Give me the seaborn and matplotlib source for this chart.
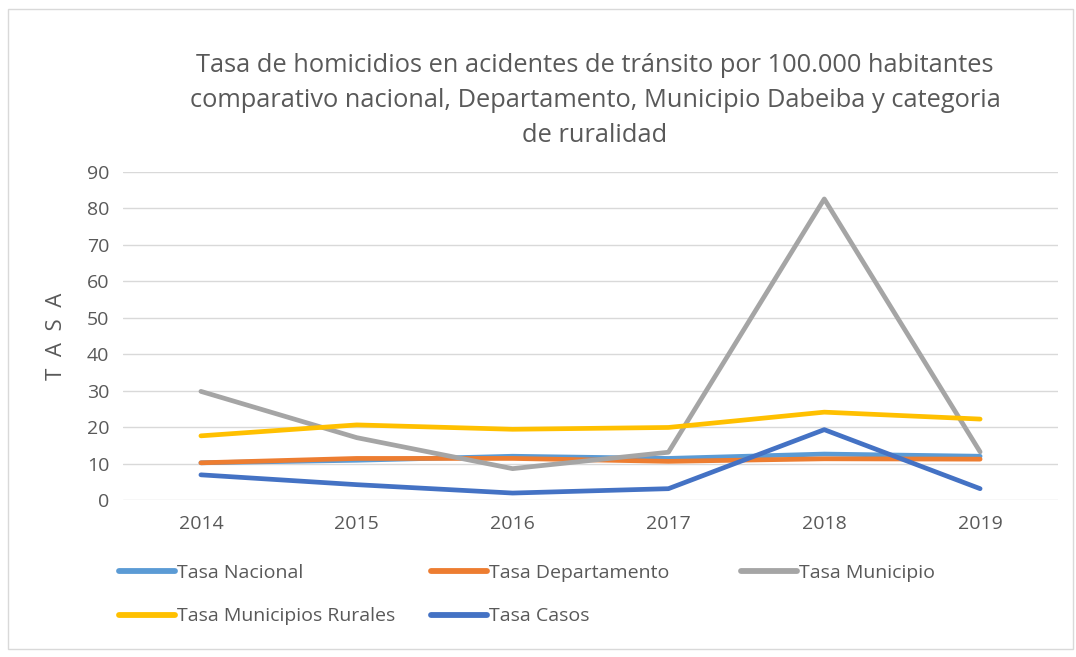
import matplotlib
matplotlib.use("Agg")
import matplotlib.pyplot as plt
import seaborn as sns
import pandas as pd
from matplotlib.patches import Rectangle

years = ["2014", "2015", "2016", "2017", "2018", "2019"]
tasa_nacional = [10.2, 10.9, 12.0, 11.4, 12.6, 12.0]
tasa_departamento = [10.2, 11.4, 11.4, 10.6, 11.3, 11.2]
tasa_municipio = [29.8, 17.1, 8.6, 13.1, 82.6, 13.2]
tasa_rurales = [17.6, 20.6, 19.4, 19.9, 24.1, 22.2]
tasa_casos = [6.9, 4.2, 1.9, 3.1, 19.3, 3.1]

series_names = ["Tasa Nacional", "Tasa Departamento", "Tasa Municipio",
                "Tasa Municipios Rurales", "Tasa Casos"]
series_values = [tasa_nacional, tasa_departamento, tasa_municipio, tasa_rurales, tasa_casos]
colors = ["#5B9BD5", "#ED7D31", "#A5A5A5", "#FFC000", "#4472C4"]

rows = []
for name, vals in zip(series_names, series_values):
    for i, (y, v) in enumerate(zip(years, vals)):
        rows.append({"pos": i, "Año": y, "Tasa": v, "Serie": name})
df = pd.DataFrame(rows)

sns.set_theme(style="white")
plt.rcParams['font.family'] = ['Open Sans', 'DejaVu Sans']

fig = plt.figure(figsize=(10.76, 6.57), dpi=100)
ax = fig.add_axes([0.1143, 0.2390, 0.8690, 0.4992])

sns.lineplot(data=df, x="pos", y="Tasa", hue="Serie", hue_order=series_names,
             palette=colors, linewidth=3.4, ax=ax, legend=True, sort=False,
             solid_capstyle="round")

ax.set_xlim(-0.5, 5.5)
ax.set_ylim(0, 90)
ax.set_yticks(range(0, 91, 10))
ax.set_xticks(range(len(years)))
ax.set_xticklabels(years)
ax.yaxis.grid(True, color="#D9D9D9", linewidth=1)
ax.set_axisbelow(True)
for s in ax.spines.values():
    s.set_visible(False)
ax.tick_params(axis="both", length=0, labelsize=14, colors="#595959", pad=10)
ax.tick_params(axis="x", pad=11)
ax.set_xlabel("")
ax.set_ylabel("T  A  S  A", fontsize=16, color="#595959", labelpad=14)

handles, labels = ax.get_legend_handles_labels()
ax.legend_.remove()
# Excel-style fixed-width legend columns, filled row by row
col_x = [0.094, 0.384, 0.672]
col_items = [[0, 3], [1, 4], [2]]
for cx, items in zip(col_x, col_items):
    leg = fig.legend([handles[i] for i in items], [labels[i] for i in items],
                     loc="upper left", bbox_to_anchor=(cx, 0.168),
                     ncol=1, frameon=False, fontsize=14, labelcolor="#595959",
                     handlelength=2.9, handletextpad=0.1, labelspacing=1.3)
    for line in leg.get_lines():
        line.set_linewidth(4.2)
        line.set_solid_capstyle("round")

fig.text(0.553, 0.919,
         "Tasa de homicidios en acidentes de tránsito por 100.000 habitantes\n"
         "comparativo nacional, Departamento, Municipio Dabeiba y categoria\n"
         "de ruralidad",
         ha="center", va="top", fontsize=18.3, color="#595959", linespacing=1.52)

fig.patches.append(Rectangle((0.007, 0.012), 0.99, 0.975, transform=fig.transFigure,
                             fill=False, edgecolor="#D9D9D9", linewidth=1))

fig.savefig("out.png", dpi=100)
